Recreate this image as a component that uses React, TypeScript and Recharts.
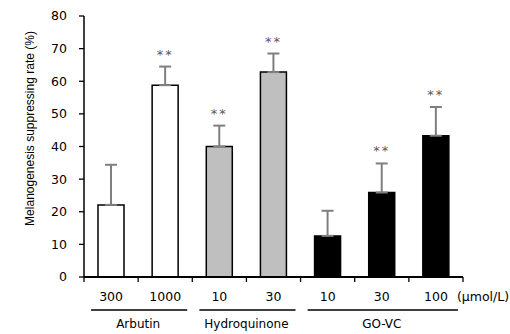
import React from 'react';
import { Bar, BarChart, Cell, ErrorBar, LabelList, XAxis, YAxis } from 'recharts';

// doses per bar (μmol/L) and the compound each bar belongs to
const doses = ['300', '1000', '10', '30', '10', '30', '100'];
const compounds = ['Arbutin', 'Arbutin', 'Hydroquinone', 'Hydroquinone', 'GO-VC', 'GO-VC', 'GO-VC'];
const means = [22.1, 58.8, 40.0, 62.8, 12.6, 25.9, 43.3];
const sds = [12.3, 5.7, 6.4, 5.7, 7.7, 8.9, 8.8];
const marks = ['', '**', '**', '**', '', '**', '**'];
const yTicks = [0, 10, 20, 30, 40, 50, 60, 70, 80];

const fillFor: Record<string, string> = {
  Arbutin: '#ffffff',
  Hydroquinone: '#bfbfbf',
  'GO-VC': '#000000',
};

const data = doses.map((d, i) => ({
  key: `${compounds[i]}-${d}`,
  value: means[i],
  err: [0, sds[i]],
  mark: marks[i],
}));

const W = 510;
const H = 334;
const LEFT = 84;
const RIGHT = 47;
const BAND = (W - LEFT - RIGHT) / doses.length;
const FONT = '"DejaVu Sans", sans-serif';
const TICK_GAP = 15;

const DoseTick = (props: any) => {
  const { x, y, payload } = props;
  const i = payload.index;
  const name = compounds[i];
  const isFirst = i === 0 || compounds[i - 1] !== name;
  const count = compounds.filter((c) => c === name).length;
  const span = (count - 1) * BAND;
  const axisY = y - TICK_GAP;
  return (
    <g>
      {/* tick marks sit on the category boundaries */}
      <line x1={x - BAND / 2} x2={x - BAND / 2} y1={axisY} y2={axisY + 5} stroke="#000" strokeWidth={1.3} />
      {i === doses.length - 1 && (
        <line x1={x + BAND / 2} x2={x + BAND / 2} y1={axisY} y2={axisY + 5} stroke="#000" strokeWidth={1.3} />
      )}
      <text x={x} y={y} dy="0.71em" textAnchor="middle" fontSize={12.5} fill="#000" fontFamily={FONT}>
        {doses[i]}
      </text>
      {isFirst && (
        <g>
          <line x1={x - 20} x2={x + span + 22} y1={y + 18} y2={y + 18} stroke="#000" strokeWidth={1.3} />
          <text x={x + span / 2} y={y + 27} dy="0.71em" textAnchor="middle" fontSize={12} fill="#000" fontFamily={FONT}>
            {name}
          </text>
        </g>
      )}
      {i === doses.length - 1 && (
        <text x={x + 21} y={y} dy="0.71em" textAnchor="start" fontSize={12.5} fill="#000" fontFamily={FONT}>
          (μmol/L)
        </text>
      )}
    </g>
  );
};

const Stars = (props: any) => {
  const { x, y, width, height, value, index } = props;
  if (!value) return null;
  const errTop = y - sds[index] * (height / means[index]);
  return (
    <text x={x + width / 2} y={errTop - 8} textAnchor="middle" fontSize={13} fill="#595959" fontFamily={FONT} letterSpacing={2}>
      {value}
    </text>
  );
};

export default function App() {
  return (
    <div style={{ position: 'absolute', left: 0, top: 0, width: W, height: H, background: '#fff' }}>
      <BarChart width={W} height={H} data={data} margin={{ top: 16, right: RIGHT, left: 0, bottom: 0 }}>
        <XAxis
          dataKey="key"
          height={57}
          axisLine={{ stroke: '#000', strokeWidth: 2 }}
          tickLine={false}
          tickSize={0}
          tickMargin={TICK_GAP}
          interval={0}
          tick={<DoseTick />}
        />
        <YAxis
          domain={[0, 80]}
          ticks={yTicks}
          width={LEFT}
          tickSize={5}
          tickMargin={12}
          axisLine={{ stroke: '#000', strokeWidth: 1.5 }}
          tickLine={{ stroke: '#000', strokeWidth: 1.3 }}
          tick={{ fontSize: 12.5, fill: '#000', fontFamily: FONT }}
          label={{
            value: 'Melanogenesis suppressing rate (%)',
            angle: -90,
            position: 'center',
            dx: -12,
            dy: -18,
            style: { fontSize: 12, fill: '#000', fontFamily: '"Liberation Sans", sans-serif', textAnchor: 'middle' },
          }}
        />
        <Bar dataKey="value" barSize={26} stroke="#000" strokeWidth={1.5} isAnimationActive={false}>
          {data.map((d, i) => (
            <Cell key={d.key} fill={fillFor[compounds[i]]} />
          ))}
          <ErrorBar dataKey="err" direction="y" width={6} stroke="#7f7f7f" strokeWidth={2} isAnimationActive={false} />
          <LabelList dataKey="mark" content={<Stars />} />
        </Bar>
      </BarChart>
    </div>
  );
}
